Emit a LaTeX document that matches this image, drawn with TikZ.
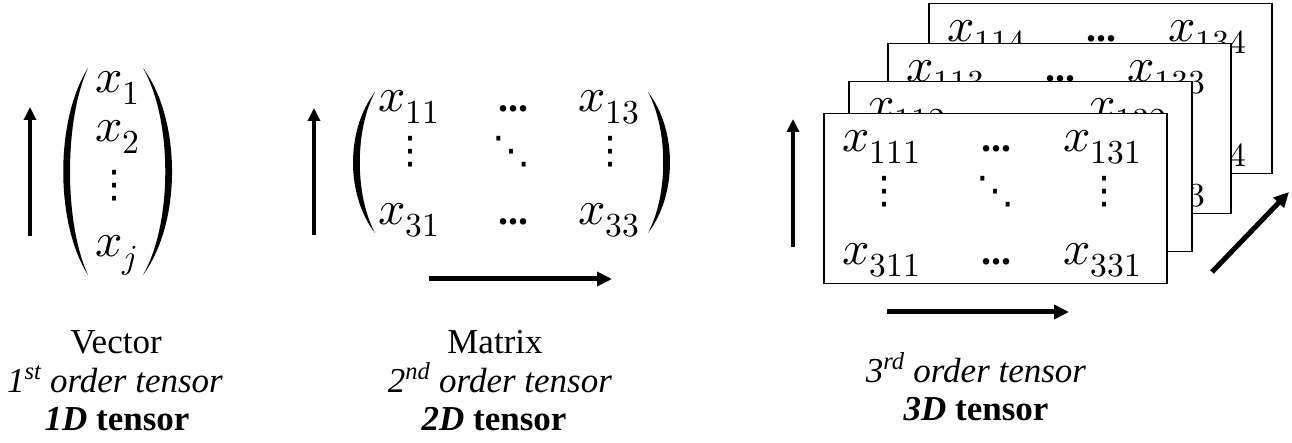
\documentclass[tikz,border=0pt]{standalone}
\usepackage{unicode-math}
\setmainfont{Liberation Serif}
\setmathfont{Latin Modern Math}
\newfontfamily\dejavu{DejaVu Sans}
\usetikzlibrary{arrows.meta}
\begin{document}
\begin{tikzpicture}[x=1pt,y=-1pt,
  ent/.style={inner sep=0pt, anchor=base west, font=\fontsize{48}{52}\selectfont},
  dts/.style={inner sep=0pt, anchor=base, font=\fontsize{40}{44}\selectfont\bfseries},
  vd/.style={inner sep=0pt, font=\fontsize{38}{42}\selectfont\dejavu},
  lbl/.style={inner sep=0pt, anchor=base, font=\fontsize{35}{40}\selectfont},
  arr/.style={line width=4pt, -{Triangle[length=13pt,width=12pt]}},
  harr/.style={line width=5pt, -{Triangle[length=15pt,width=14pt]}},
  sheet/.style={draw, line width=1.5pt, fill=white, minimum width=343pt, minimum height=170pt, anchor=north west, inner sep=0pt},
  paren/.style={fill=black}]
\useasboundingbox (0,0) rectangle (1292,443);

% ---------- Vector ----------
\coordinate (va0) at (30,236);
\coordinate (va1) at (30,107);
\draw[arr] (va0) -- (va1);
\fill[paren] (88,68) .. controls (55,120) and (55,223) .. (88,275)
  .. controls (64,223) and (64,120) .. (88,68) -- cycle;
\fill[paren] (143,68) .. controls (181.7,120) and (181.7,223) .. (143,275)
  .. controls (172.7,223) and (172.7,120) .. (143,68) -- cycle;
\node[ent] (v1) at (95,93) {$x_1$};
\node[ent] (v2) at (95,142) {$x_2$};
\node[vd] (v3) at (114,186) {⋮};
\node[ent] (vj) at (95,257) {$x_j$};

% ---------- Matrix ----------
\coordinate (ma0) at (314,235);
\coordinate (ma1) at (314,108);
\draw[arr] (ma0) -- (ma1);
\fill[paren] (375,92) .. controls (345.7,130) and (345.7,195) .. (375,233)
  .. controls (354.7,195) and (354.7,130) .. (375,92) -- cycle;
\fill[paren] (648,92) .. controls (677.3,130) and (677.3,195) .. (648,233)
  .. controls (668.3,195) and (668.3,130) .. (648,92) -- cycle;
\node[ent] (m11) at (378,112) {$x_{11}$};
\node[dts] (m12) at (513,112) {...};
\node[ent] (m13) at (578,112) {$x_{13}$};
\node[vd] (m21) at (410,152) {⋮};
\node[vd] (m22) at (511,152) {⋱};
\node[vd] (m23) at (610,152) {⋮};
\node[ent] (m31) at (378,225) {$x_{31}$};
\node[dts] (m32) at (513,225) {...};
\node[ent] (m33) at (578,225) {$x_{33}$};
\coordinate (mb0) at (429,279);
\coordinate (mb1) at (612,279);
\draw[harr] (mb0) -- (mb1);

% ---------- 3D tensor ----------
\coordinate (ta0) at (793,247);
\coordinate (ta1) at (793,119);
\draw[arr] (ta0) -- (ta1);
\foreach \bx/\by/\k in {928/3/4, 887/43/3, 848/81/2, 823/113/1} {
  \begin{scope}[shift={(\bx,\by)}]
    \node[sheet] (s\k) at (0,0) {};
    \node[ent] (s\k a) at (19,39) {$x_{11\k}$};
    \node[dts] (s\k b) at (173,39) {...};
    \node[ent] (s\k c) at (240,39) {$x_{13\k}$};
    \node[vd] (s\k d) at (61,79) {⋮};
    \node[vd] (s\k e) at (172,79) {⋱};
    \node[vd] (s\k f) at (281,79) {⋮};
    \node[ent] (s\k g) at (19,152) {$x_{31\k}$};
    \node[dts] (s\k h) at (173,152) {...};
    \node[ent] (s\k i) at (240,152) {$x_{33\k}$};
  \end{scope}
}
\coordinate (tb0) at (887,312);
\coordinate (tb1) at (1069,312);
\draw[harr] (tb0) -- (tb1);
\coordinate (tc0) at (1212,272);
\coordinate (tc1) at (1289,192);
\draw[harr] (tc0) -- (tc1);

% ---------- Labels ----------
\node[lbl] (l1a) at (116,353) {Vector};
\node[lbl] (l1b) at (115,392) {\textit{1\textsuperscript{st} order tensor}};
\node[lbl] (l1c) at (117,430) {\textbf{\textit{1D} tensor}};
\node[lbl] (l2a) at (495,353) {Matrix};
\node[lbl] (l2b) at (500,392) {\textit{2\textsuperscript{nd} order tensor}};
\node[lbl] (l2c) at (494,430) {\textbf{\textit{2D} tensor}};
\node[lbl] (l3b) at (976,382) {\textit{3\textsuperscript{rd} order tensor}};
\node[lbl] (l3c) at (976,420) {\textbf{\textit{3D} tensor}};
\end{tikzpicture}
\end{document}
